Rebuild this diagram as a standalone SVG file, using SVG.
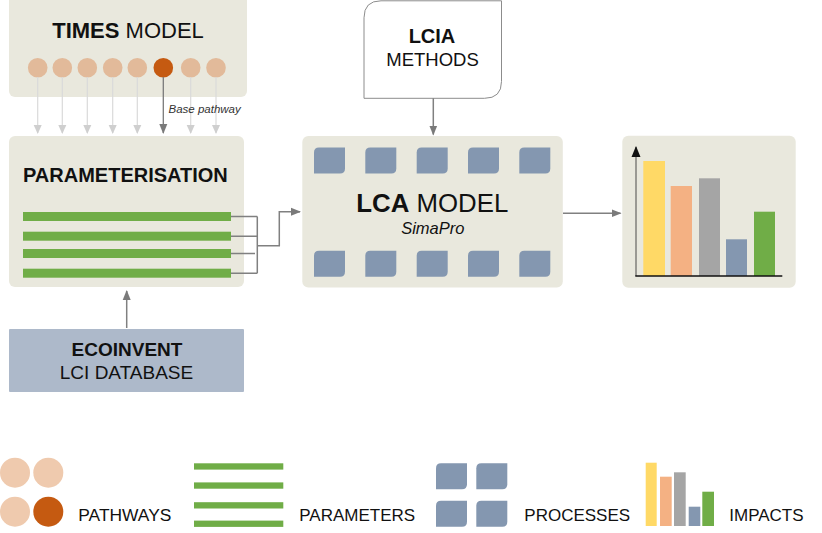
<svg xmlns="http://www.w3.org/2000/svg" width="822" height="533" viewBox="0 0 822 533">
<style>
.box{fill:#E9E8DD}
.t{font-family:"Liberation Sans",Arial,sans-serif;fill:#111}
.b{font-weight:bold}
.pw{fill:#E2BA9A}
.pwd{fill:#C55A11}
.bar{fill:#70AD47}
.proc{fill:#8497B0}
.lg{stroke:#DADADA;stroke-width:1.2;fill:none}
.ln{stroke:#808080;stroke-width:1.5;fill:none}
</style>
<defs>
<path id="sq" d="M5,0 H31 V21 Q31,26 26,26 H0 V5 Q0,0 5,0 Z"/>
<marker id="ahL" markerWidth="10" markerHeight="10" refX="8" refY="5" orient="auto" markerUnits="userSpaceOnUse"><path d="M0,1 L9,5 L0,9 Z" fill="#CFCFCF"/></marker>
<marker id="ah" markerWidth="12" markerHeight="12" refX="9" refY="5" orient="auto" markerUnits="userSpaceOnUse"><path d="M0,1 L10,5 L0,9 Z" fill="#7A7A7A"/></marker>
<marker id="ahK" markerWidth="14" markerHeight="14" refX="10" refY="6" orient="auto" markerUnits="userSpaceOnUse"><path d="M0,1.5 L11,6 L0,10.5 Z" fill="#111"/></marker>
</defs>

<g id="times-model">
<rect class="box" x="9" y="-6" width="238" height="103" rx="6"/>
<text class="t" x="128" y="38" font-size="22" text-anchor="middle"><tspan class="b">TIMES</tspan> MODEL</text>
<circle class="pw" cx="37.7" cy="67.7" r="9.8"/>
<circle class="pw" cx="62.3" cy="67.7" r="9.8"/>
<circle class="pw" cx="87.3" cy="67.7" r="9.8"/>
<circle class="pw" cx="112.7" cy="67.7" r="9.8"/>
<circle class="pw" cx="137.3" cy="67.7" r="9.8"/>
<circle class="pwd" cx="163.3" cy="67.7" r="9.8"/>
<circle class="pw" cx="190.7" cy="67.7" r="9.8"/>
<circle class="pw" cx="216" cy="67.7" r="9.8"/>
</g>

<g id="parameterisation">
<rect class="box" x="9" y="136" width="235" height="151" rx="6"/>
<text class="t b" x="23" y="182" font-size="20">PARAMETERISATION</text>
<rect class="bar" x="23" y="212" width="208" height="9"/>
<rect class="bar" x="23" y="231.7" width="208" height="9"/>
<rect class="bar" x="23" y="249" width="208" height="9"/>
<rect class="bar" x="23" y="268.7" width="208" height="9"/>
</g>

<g id="ecoinvent">
<rect x="9" y="329" width="235" height="63" fill="#ADB9CA" rx="1"/>
<text class="t b" x="127" y="356" font-size="19" text-anchor="middle">ECOINVENT</text>
<text class="t" x="126.5" y="378.5" font-size="19" text-anchor="middle">LCI DATABASE</text>
</g>

<g id="lcia-methods">
<path d="M381,0.8 H501.5 V81.5 Q501.5,98.3 484.5,98.3 H364 V17.8 Q364,0.8 381,0.8 Z" fill="#fff" stroke="#8C8C8C" stroke-width="1"/>
<text class="t b" x="432" y="43" font-size="20" text-anchor="middle">LCIA</text>
<text class="t" x="432.5" y="65.5" font-size="18.5" text-anchor="middle">METHODS</text>
</g>

<g id="lca-model">
<rect class="box" x="302.3" y="136" width="260.5" height="151.5" rx="6"/>
<use href="#sq" class="proc" x="314" y="147.5"/>
<use href="#sq" class="proc" x="365.3" y="147.5"/>
<use href="#sq" class="proc" x="416.7" y="147.5"/>
<use href="#sq" class="proc" x="468" y="147.5"/>
<use href="#sq" class="proc" x="519.3" y="147.5"/>
<use href="#sq" class="proc" x="314" y="250.7"/>
<use href="#sq" class="proc" x="365.3" y="250.7"/>
<use href="#sq" class="proc" x="416.7" y="250.7"/>
<use href="#sq" class="proc" x="468" y="250.7"/>
<use href="#sq" class="proc" x="519.3" y="250.7"/>
<text class="t" x="432.3" y="211.7" font-size="25.8" text-anchor="middle"><tspan class="b">LCA</tspan> MODEL</text>
<text class="t" x="432.8" y="233.5" font-size="16.5" font-style="italic" text-anchor="middle">SimaPro</text>
</g>

<g id="impacts">
<rect class="box" x="622.3" y="135.7" width="173.4" height="152" rx="6"/>
<rect x="643.3" y="161" width="21.7" height="115" fill="#FFD966"/>
<rect x="670.7" y="186" width="21.3" height="90" fill="#F4B183"/>
<rect x="699" y="178.3" width="21" height="97.7" fill="#A5A5A5"/>
<rect x="726" y="239.3" width="21" height="36.7" fill="#8497B0"/>
<rect x="754" y="211.7" width="21" height="64.3" fill="#70AD47"/>
<line x1="636" y1="276" x2="636" y2="147" stroke="#7F7F7A" stroke-width="1.5" marker-end="url(#ahK)"/>
<line x1="635.3" y1="276" x2="782.3" y2="276" stroke="#111" stroke-width="1.5"/>
</g>

<g id="connectors">
<line class="lg" x1="37.7" y1="77" x2="37.7" y2="133" marker-end="url(#ahL)"/>
<line class="lg" x1="62.3" y1="77" x2="62.3" y2="133" marker-end="url(#ahL)"/>
<line class="lg" x1="87.3" y1="77" x2="87.3" y2="133" marker-end="url(#ahL)"/>
<line class="lg" x1="112.7" y1="77" x2="112.7" y2="133" marker-end="url(#ahL)"/>
<line class="lg" x1="137.3" y1="77" x2="137.3" y2="133" marker-end="url(#ahL)"/>
<line class="lg" x1="190.7" y1="77" x2="190.7" y2="133" marker-end="url(#ahL)"/>
<line class="lg" x1="216" y1="77" x2="216" y2="133" marker-end="url(#ahL)"/>
<line x1="163.3" y1="77" x2="163.3" y2="133" stroke="#7A7A7A" stroke-width="1.3" marker-end="url(#ah)"/>
<text class="t" x="168.5" y="113" font-size="11.5" font-style="italic" style="fill:#333">Base pathway</text>
<path class="ln" d="M231,216.5 H257.3 M231,236.2 H257.3 M231,253.5 H255 M231,273.2 H257.3 M257.3,216.5 V273.2 M257.3,245.7 H279.3 V211.7 H300" marker-end="url(#ah)"/>
<line class="ln" x1="126.7" y1="328" x2="126.7" y2="291" marker-end="url(#ah)"/>
<line class="ln" x1="433.3" y1="98.3" x2="433.3" y2="134.5" marker-end="url(#ah)"/>
<line class="ln" x1="563" y1="213.3" x2="620.5" y2="213.3" marker-end="url(#ah)"/>
</g>

<g id="legend">
<circle cx="15" cy="472.7" r="15" fill="#EFCAAE"/>
<circle cx="48.3" cy="472.7" r="15" fill="#EFCAAE"/>
<circle cx="15" cy="511.7" r="15" fill="#EFCAAE"/>
<circle cx="48.3" cy="511.7" r="15" class="pwd"/>
<text class="t" x="78.3" y="520.7" font-size="17.4">PATHWAYS</text>
<rect class="bar" x="194" y="463.3" width="89.3" height="6.3"/>
<rect class="bar" x="194" y="482.4" width="89.3" height="6.3"/>
<rect class="bar" x="194" y="502.2" width="89.3" height="6.3"/>
<rect class="bar" x="194" y="520.6" width="89.3" height="6.3"/>
<text class="t" x="299.3" y="520.7" font-size="17">PARAMETERS</text>
<use href="#sq" class="proc" x="436" y="463.3"/>
<use href="#sq" class="proc" x="476.3" y="463.3"/>
<use href="#sq" class="proc" x="436" y="500.7"/>
<use href="#sq" class="proc" x="476.3" y="500.7"/>
<text class="t" x="524.3" y="520.7" font-size="17">PROCESSES</text>
<rect x="645.7" y="462.7" width="11" height="63.3" fill="#FFD966"/>
<rect x="660" y="476.7" width="11.7" height="49.3" fill="#F4B183"/>
<rect x="674" y="472.3" width="11.7" height="53.7" fill="#A5A5A5"/>
<rect x="688.7" y="506.7" width="11.6" height="19.3" fill="#8497B0"/>
<rect x="702.3" y="491.7" width="11.7" height="34.3" fill="#70AD47"/>
<text class="t" x="729.3" y="520.7" font-size="17">IMPACTS</text>
</g>
</svg>
